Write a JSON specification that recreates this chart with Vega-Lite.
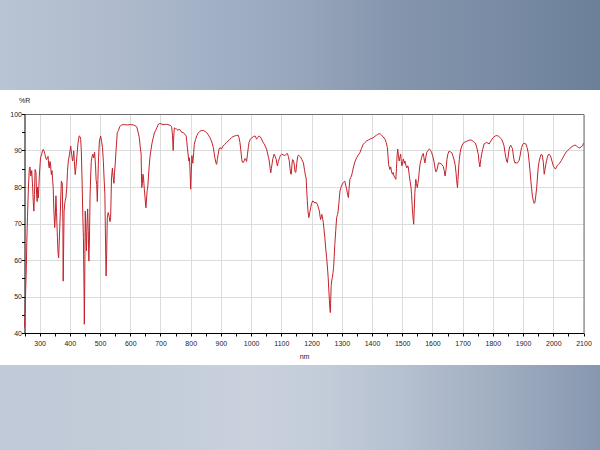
{
"$schema": "https://vega.github.io/schema/vega-lite/v6.json",
"padding": 0,
"background": "white",
"spacing": 6,
"config": {"font": "Liberation Sans", "view": {"stroke": null}},
"datasets": {"spectrum": [
{"nm":250,"R":41.5},{"nm":252,"R":45},{"nm":254,"R":52},{"nm":256,"R":58},{"nm":258,"R":66},{"nm":260,"R":72},{"nm":263,"R":80},{"nm":266,"R":85},{"nm":268,"R":85.5},{"nm":271,"R":83},{"nm":274,"R":84.5},{"nm":277,"R":79.8},{"nm":279,"R":76},{"nm":281,"R":73.4},{"nm":283,"R":78},{"nm":285,"R":84.8},{"nm":288,"R":84},{"nm":290,"R":78},{"nm":292,"R":76},{"nm":293,"R":80},{"nm":296,"R":77},{"nm":299,"R":83},{"nm":303,"R":88},{"nm":307,"R":89},{"nm":310,"R":90},{"nm":312,"R":90.3},{"nm":315,"R":89.8},{"nm":317,"R":89.2},{"nm":320,"R":88},{"nm":323,"R":87.5},{"nm":326,"R":88.2},{"nm":328,"R":88.4},{"nm":330,"R":86},{"nm":332,"R":85.2},{"nm":334,"R":87},{"nm":336,"R":86.6},{"nm":338,"R":84},{"nm":339,"R":83.4},{"nm":341,"R":84.5},{"nm":343,"R":82},{"nm":345,"R":79.8},{"nm":347,"R":74},{"nm":350,"R":68.9},{"nm":352,"R":72},{"nm":354,"R":77.6},{"nm":356,"R":73},{"nm":359,"R":66.1},{"nm":361,"R":62},{"nm":363,"R":60.6},{"nm":365,"R":65},{"nm":368,"R":71.6},{"nm":370,"R":77},{"nm":372,"R":81.6},{"nm":375,"R":81},{"nm":377,"R":70},{"nm":378,"R":54.2},{"nm":379,"R":60},{"nm":381,"R":73.4},{"nm":384,"R":76},{"nm":387,"R":77},{"nm":390,"R":80},{"nm":392,"R":84},{"nm":395,"R":87.1},{"nm":399,"R":89},{"nm":403,"R":91.2},{"nm":406,"R":89},{"nm":409,"R":87.1},{"nm":411,"R":88},{"nm":413,"R":89.9},{"nm":415,"R":87},{"nm":418,"R":83.4},{"nm":421,"R":86},{"nm":424,"R":89},{"nm":427,"R":92},{"nm":431,"R":94},{"nm":434,"R":93.8},{"nm":436,"R":93},{"nm":438,"R":90},{"nm":439,"R":87.1},{"nm":441,"R":80},{"nm":443,"R":72},{"nm":445,"R":66.1},{"nm":447,"R":52},{"nm":448,"R":42.4},{"nm":449,"R":50},{"nm":451,"R":73.4},{"nm":453,"R":68},{"nm":455,"R":62.5},{"nm":457,"R":70},{"nm":459,"R":74},{"nm":461,"R":68},{"nm":463,"R":59.7},{"nm":465,"R":66},{"nm":467,"R":77.6},{"nm":469,"R":83},{"nm":471,"R":87},{"nm":474,"R":88.5},{"nm":476,"R":89},{"nm":479,"R":88},{"nm":482,"R":89.5},{"nm":485,"R":86},{"nm":487,"R":82},{"nm":489,"R":80.7},{"nm":491,"R":76},{"nm":493,"R":82},{"nm":495,"R":88},{"nm":498,"R":92.6},{"nm":502,"R":94},{"nm":505,"R":92.5},{"nm":508,"R":90.9},{"nm":511,"R":87},{"nm":513,"R":83},{"nm":516,"R":78},{"nm":518,"R":66},{"nm":520,"R":55.6},{"nm":522,"R":62},{"nm":524,"R":71.6},{"nm":527,"R":73},{"nm":530,"R":72},{"nm":533,"R":70.5},{"nm":535,"R":71.6},{"nm":538,"R":82.5},{"nm":541,"R":85.2},{"nm":543,"R":83},{"nm":546,"R":81},{"nm":548,"R":84},{"nm":550,"R":86},{"nm":553,"R":90},{"nm":557,"R":94.9},{"nm":561,"R":95.5},{"nm":565,"R":96.5},{"nm":571,"R":97},{"nm":580,"R":97.1},{"nm":590,"R":97},{"nm":600,"R":97.1},{"nm":610,"R":97},{"nm":616,"R":96.8},{"nm":622,"R":96.4},{"nm":626,"R":95},{"nm":630,"R":93.5},{"nm":633,"R":91},{"nm":636,"R":89},{"nm":637,"R":84},{"nm":638,"R":79.8},{"nm":640,"R":81},{"nm":642,"R":83.5},{"nm":644,"R":82.5},{"nm":646,"R":80},{"nm":649,"R":77},{"nm":651,"R":75},{"nm":652,"R":74.3},{"nm":654,"R":77},{"nm":656,"R":79},{"nm":658,"R":80},{"nm":660,"R":82.5},{"nm":663,"R":86},{"nm":665,"R":88},{"nm":668,"R":89.9},{"nm":672,"R":92},{"nm":676,"R":93.5},{"nm":680,"R":94.8},{"nm":684,"R":95.5},{"nm":688,"R":96.2},{"nm":693,"R":97.2},{"nm":698,"R":97.4},{"nm":705,"R":97.2},{"nm":712,"R":97.1},{"nm":720,"R":97.2},{"nm":728,"R":97},{"nm":734,"R":96.8},{"nm":737,"R":96.5},{"nm":740,"R":94},{"nm":742,"R":90},{"nm":744,"R":94},{"nm":746,"R":96.2},{"nm":750,"R":96},{"nm":753,"R":95.9},{"nm":758,"R":95.5},{"nm":762,"R":95.9},{"nm":765,"R":95.6},{"nm":770,"R":95},{"nm":776,"R":94.9},{"nm":780,"R":94.5},{"nm":785,"R":94},{"nm":787,"R":92.5},{"nm":789,"R":90.8},{"nm":792,"R":88.5},{"nm":794,"R":87.1},{"nm":796,"R":88},{"nm":797,"R":86},{"nm":799,"R":82},{"nm":800,"R":79.4},{"nm":802,"R":84},{"nm":804,"R":88.6},{"nm":806,"R":87},{"nm":807,"R":86.5},{"nm":810,"R":89.5},{"nm":812,"R":91.7},{"nm":816,"R":93},{"nm":820,"R":94},{"nm":825,"R":94.8},{"nm":831,"R":95.3},{"nm":837,"R":95.5},{"nm":842,"R":95.5},{"nm":848,"R":95.2},{"nm":853,"R":94.9},{"nm":858,"R":94.3},{"nm":864,"R":93.5},{"nm":870,"R":92.3},{"nm":875,"R":90.8},{"nm":880,"R":88},{"nm":884,"R":86.5},{"nm":886,"R":86.2},{"nm":888,"R":87.5},{"nm":891,"R":89},{"nm":894,"R":90.4},{"nm":897,"R":90.8},{"nm":902,"R":90.4},{"nm":907,"R":91.2},{"nm":913,"R":91.7},{"nm":918,"R":92.2},{"nm":924,"R":92.6},{"nm":930,"R":93.1},{"nm":935,"R":93.5},{"nm":940,"R":93.8},{"nm":946,"R":94},{"nm":952,"R":94.1},{"nm":957,"R":94.2},{"nm":960,"R":93.5},{"nm":963,"R":92.2},{"nm":966,"R":90},{"nm":969,"R":87.6},{"nm":971,"R":86.8},{"nm":974,"R":86.7},{"nm":977,"R":87.2},{"nm":980,"R":87.8},{"nm":983,"R":87.4},{"nm":985,"R":87},{"nm":988,"R":89},{"nm":991,"R":91},{"nm":993,"R":92.2},{"nm":997,"R":93},{"nm":1002,"R":93.5},{"nm":1008,"R":93.8},{"nm":1013,"R":94},{"nm":1016,"R":93.5},{"nm":1018,"R":93.1},{"nm":1022,"R":93.6},{"nm":1027,"R":94},{"nm":1033,"R":93.4},{"nm":1040,"R":92.2},{"nm":1045,"R":91.5},{"nm":1051,"R":90.4},{"nm":1055,"R":89},{"nm":1058,"R":88},{"nm":1060,"R":87.1},{"nm":1063,"R":85},{"nm":1065,"R":83.9},{"nm":1067,"R":85},{"nm":1069,"R":86.2},{"nm":1072,"R":87.8},{"nm":1076,"R":89},{"nm":1080,"R":88.3},{"nm":1083,"R":87.6},{"nm":1085,"R":86.5},{"nm":1087,"R":85.8},{"nm":1090,"R":87},{"nm":1094,"R":88},{"nm":1097,"R":88.7},{"nm":1101,"R":89},{"nm":1106,"R":88.8},{"nm":1112,"R":88.6},{"nm":1116,"R":89},{"nm":1120,"R":89.2},{"nm":1123,"R":88.4},{"nm":1126,"R":87.3},{"nm":1129,"R":85},{"nm":1131,"R":83.6},{"nm":1133,"R":83.5},{"nm":1135,"R":86},{"nm":1137,"R":87.5},{"nm":1140,"R":87.3},{"nm":1143,"R":86},{"nm":1145,"R":84.2},{"nm":1148,"R":84},{"nm":1151,"R":86.5},{"nm":1154,"R":88.3},{"nm":1156,"R":88.7},{"nm":1160,"R":88.5},{"nm":1164,"R":88.2},{"nm":1168,"R":87.5},{"nm":1173,"R":86.6},{"nm":1177,"R":84.5},{"nm":1180,"R":83},{"nm":1182,"R":82.5},{"nm":1184,"R":79},{"nm":1186,"R":76.2},{"nm":1188,"R":73.5},{"nm":1191,"R":71.6},{"nm":1194,"R":73},{"nm":1197,"R":74.3},{"nm":1200,"R":75.5},{"nm":1204,"R":76.2},{"nm":1208,"R":75.9},{"nm":1211,"R":75.6},{"nm":1215,"R":75.8},{"nm":1219,"R":75.3},{"nm":1222,"R":74.5},{"nm":1226,"R":73.4},{"nm":1228,"R":72},{"nm":1230,"R":71.1},{"nm":1232,"R":71.8},{"nm":1234,"R":72.5},{"nm":1237,"R":71.2},{"nm":1239,"R":70.2},{"nm":1241,"R":68.5},{"nm":1244,"R":66.1},{"nm":1247,"R":63},{"nm":1250,"R":60.6},{"nm":1253,"R":57.5},{"nm":1255,"R":55.2},{"nm":1257,"R":52},{"nm":1259,"R":49},{"nm":1261,"R":46.5},{"nm":1262,"R":45.6},{"nm":1263,"R":48},{"nm":1265,"R":53},{"nm":1267,"R":54.5},{"nm":1269,"R":55.2},{"nm":1271,"R":56.5},{"nm":1273,"R":58},{"nm":1275,"R":61},{"nm":1277,"R":64.3},{"nm":1280,"R":68},{"nm":1283,"R":71.6},{"nm":1286,"R":72.5},{"nm":1288,"R":73.4},{"nm":1291,"R":76},{"nm":1294,"R":78.9},{"nm":1297,"R":79.8},{"nm":1299,"R":80.3},{"nm":1302,"R":80.8},{"nm":1305,"R":81.2},{"nm":1308,"R":81.5},{"nm":1310,"R":81.6},{"nm":1313,"R":80.5},{"nm":1316,"R":79.5},{"nm":1319,"R":78},{"nm":1322,"R":77.1},{"nm":1324,"R":79.5},{"nm":1327,"R":82.1},{"nm":1330,"R":82.7},{"nm":1332,"R":83},{"nm":1335,"R":84},{"nm":1338,"R":85.2},{"nm":1343,"R":86.8},{"nm":1349,"R":88},{"nm":1355,"R":88.8},{"nm":1360,"R":89.4},{"nm":1365,"R":90.5},{"nm":1371,"R":91.7},{"nm":1377,"R":92.2},{"nm":1382,"R":92.6},{"nm":1388,"R":92.9},{"nm":1393,"R":93.1},{"nm":1399,"R":93.3},{"nm":1404,"R":93.5},{"nm":1410,"R":93.9},{"nm":1415,"R":94.2},{"nm":1419,"R":94.4},{"nm":1423,"R":94.6},{"nm":1428,"R":94.5},{"nm":1432,"R":94.2},{"nm":1437,"R":93.7},{"nm":1443,"R":93.1},{"nm":1447,"R":92.2},{"nm":1451,"R":90.8},{"nm":1453,"R":88.5},{"nm":1455,"R":86.2},{"nm":1457,"R":85.5},{"nm":1459,"R":84.8},{"nm":1462,"R":85.5},{"nm":1465,"R":84},{"nm":1468,"R":83.5},{"nm":1470,"R":84},{"nm":1473,"R":83},{"nm":1476,"R":82.5},{"nm":1479,"R":82.1},{"nm":1481,"R":85},{"nm":1483,"R":88.5},{"nm":1485,"R":90.4},{"nm":1487,"R":89},{"nm":1490,"R":87.1},{"nm":1492,"R":88},{"nm":1495,"R":89},{"nm":1497,"R":87},{"nm":1499,"R":85.8},{"nm":1502,"R":87},{"nm":1504,"R":87.7},{"nm":1507,"R":86.5},{"nm":1509,"R":87.1},{"nm":1512,"R":86},{"nm":1515,"R":85.2},{"nm":1518,"R":85.8},{"nm":1520,"R":85.5},{"nm":1523,"R":83.5},{"nm":1526,"R":81.6},{"nm":1529,"R":80},{"nm":1531,"R":77.9},{"nm":1533,"R":75},{"nm":1534,"R":73.4},{"nm":1536,"R":71.5},{"nm":1538,"R":69.8},{"nm":1540,"R":74},{"nm":1542,"R":78.5},{"nm":1544,"R":81},{"nm":1545,"R":82.1},{"nm":1547,"R":81},{"nm":1550,"R":79.8},{"nm":1552,"R":81},{"nm":1554,"R":82.1},{"nm":1556,"R":84},{"nm":1559,"R":86.2},{"nm":1562,"R":87.3},{"nm":1564,"R":88},{"nm":1567,"R":88.8},{"nm":1570,"R":89.2},{"nm":1572,"R":88},{"nm":1575,"R":86.6},{"nm":1578,"R":88},{"nm":1581,"R":89.4},{"nm":1585,"R":90},{"nm":1590,"R":90.4},{"nm":1594,"R":90},{"nm":1597,"R":89.5},{"nm":1601,"R":88.5},{"nm":1605,"R":87.1},{"nm":1608,"R":85.5},{"nm":1611,"R":84.2},{"nm":1614,"R":84.3},{"nm":1617,"R":85.5},{"nm":1620,"R":86.6},{"nm":1625,"R":86.5},{"nm":1631,"R":86.2},{"nm":1636,"R":85.6},{"nm":1639,"R":84.5},{"nm":1642,"R":83},{"nm":1645,"R":84.8},{"nm":1648,"R":87.5},{"nm":1651,"R":89},{"nm":1655,"R":89.8},{"nm":1660,"R":89.6},{"nm":1664,"R":89.4},{"nm":1669,"R":88.2},{"nm":1672,"R":87.3},{"nm":1675,"R":86.2},{"nm":1678,"R":84},{"nm":1680,"R":82},{"nm":1683,"R":79.8},{"nm":1685,"R":82.5},{"nm":1687,"R":85.5},{"nm":1689,"R":87.5},{"nm":1692,"R":89.5},{"nm":1694,"R":90.4},{"nm":1698,"R":91.4},{"nm":1702,"R":92},{"nm":1707,"R":92.3},{"nm":1713,"R":92.5},{"nm":1718,"R":92.7},{"nm":1724,"R":92.9},{"nm":1730,"R":92.8},{"nm":1735,"R":92.5},{"nm":1740,"R":92.2},{"nm":1743,"R":91.8},{"nm":1747,"R":90.8},{"nm":1750,"R":89.5},{"nm":1752,"R":89},{"nm":1754,"R":87},{"nm":1757,"R":85.5},{"nm":1760,"R":87.5},{"nm":1763,"R":89},{"nm":1767,"R":90.5},{"nm":1771,"R":91.8},{"nm":1775,"R":92},{"nm":1780,"R":92.2},{"nm":1784,"R":92},{"nm":1788,"R":91.8},{"nm":1792,"R":92.4},{"nm":1797,"R":93.1},{"nm":1802,"R":93.6},{"nm":1808,"R":94},{"nm":1813,"R":94.1},{"nm":1819,"R":93.9},{"nm":1824,"R":93.5},{"nm":1829,"R":93.1},{"nm":1833,"R":92.3},{"nm":1837,"R":91.3},{"nm":1840,"R":89.5},{"nm":1843,"R":88},{"nm":1846,"R":87},{"nm":1848,"R":86.7},{"nm":1851,"R":88.5},{"nm":1853,"R":89.9},{"nm":1856,"R":91},{"nm":1859,"R":91.5},{"nm":1862,"R":91},{"nm":1865,"R":90.5},{"nm":1868,"R":88.5},{"nm":1871,"R":87.1},{"nm":1874,"R":86.5},{"nm":1876,"R":86.8},{"nm":1879,"R":86.5},{"nm":1881,"R":86.6},{"nm":1884,"R":86.9},{"nm":1887,"R":87.3},{"nm":1890,"R":88.5},{"nm":1893,"R":90},{"nm":1895,"R":90.8},{"nm":1899,"R":91.7},{"nm":1903,"R":92},{"nm":1906,"R":91.9},{"nm":1909,"R":91.8},{"nm":1913,"R":90.9},{"nm":1917,"R":89.4},{"nm":1920,"R":87},{"nm":1923,"R":84.4},{"nm":1926,"R":81.5},{"nm":1928,"R":79.8},{"nm":1931,"R":77.5},{"nm":1934,"R":76.2},{"nm":1937,"R":75.5},{"nm":1939,"R":75.7},{"nm":1942,"R":77.5},{"nm":1945,"R":79.8},{"nm":1948,"R":83},{"nm":1950,"R":85.2},{"nm":1953,"R":87},{"nm":1956,"R":88},{"nm":1959,"R":88.8},{"nm":1961,"R":89},{"nm":1964,"R":88.5},{"nm":1967,"R":86.8},{"nm":1970,"R":83.5},{"nm":1972,"R":84.5},{"nm":1975,"R":86},{"nm":1978,"R":87.3},{"nm":1980,"R":88},{"nm":1983,"R":88.8},{"nm":1986,"R":89},{"nm":1989,"R":88.7},{"nm":1992,"R":88.2},{"nm":1996,"R":87},{"nm":2000,"R":85.8},{"nm":2004,"R":85.3},{"nm":2007,"R":84.9},{"nm":2011,"R":85.5},{"nm":2014,"R":86},{"nm":2018,"R":86.3},{"nm":2022,"R":86.6},{"nm":2027,"R":87.3},{"nm":2031,"R":87.9},{"nm":2035,"R":88.5},{"nm":2038,"R":89},{"nm":2043,"R":89.6},{"nm":2049,"R":90.1},{"nm":2055,"R":90.6},{"nm":2061,"R":91},{"nm":2066,"R":91.3},{"nm":2072,"R":91.5},{"nm":2076,"R":91.3},{"nm":2080,"R":91},{"nm":2084,"R":90.8},{"nm":2088,"R":90.7},{"nm":2092,"R":91},{"nm":2097,"R":91.3},{"nm":2100,"R":92}
]},
"vconcat": [
 {
  "width": 600, "height": 90,
  "data": {"values": []},
  "mark": "point",
  "view": {"stroke": null, "fill": {"gradient": "linear", "x1": 0, "y1": 0, "x2": 1, "y2": 0, "stops": [
    {"offset": 0, "color": "#b8c3d3"}, {"offset": 0.17, "color": "#b0bccd"}, {"offset": 0.33, "color": "#a4b2c7"},
    {"offset": 0.5, "color": "#98a6bb"}, {"offset": 0.67, "color": "#8394ac"}, {"offset": 0.83, "color": "#7a8ca5"},
    {"offset": 1, "color": "#6b7f98"}]}}
 },
 {
  "width": 600, "height": 219,
  "data": {"name": "spectrum"},
  "view": {"stroke": null, "fill": null},
  "layer": [
   {
    "mark": {"type": "line", "color": "#c4222b", "strokeWidth": 1, "clip": true},
    "encoding": {
     "x": {"field": "nm", "type": "quantitative",
      "scale": {"domain": [250, 2100], "range": [24.5, 583.5], "nice": false, "zero": false},
      "axis": {
       "title": "nm", "titleFontSize": 7, "titleFontWeight": "normal", "titleColor": "#222",
       "titleX": 304, "titleY": 23, "titleAlign": "center", "titleBaseline": "middle",
       "values": [250,300,350,400,450,500,550,600,650,700,750,800,850,900,950,1000,1050,1100,1150,1200,1250,1300,1350,1400,1450,1500,1550,1600,1650,1700,1750,1800,1850,1900,1950,2000,2050,2100],
       "labelExpr": "datum.value % 100 === 0 ? datum.label : ''",
       "format": "d", "labelFontSize": 7, "labelColor": "#222", "labelPadding": 3, "labelFlush": false, "labelOverlap": false,
       "tickSize": 3, "tickColor": "#000", "domainColor": "#000",
       "gridColor": "#dcdcdc",
       "gridOpacity": {"condition": {"test": "datum.value % 100 === 0", "value": 1}, "value": 0},
       "minExtent": 26, "maxExtent": 26
      }},
     "y": {"field": "R", "type": "quantitative",
      "scale": {"domain": [40, 100], "nice": false, "zero": false},
      "axis": {
       "offset": -24.5,
       "title": "%R", "titleFontSize": 7, "titleFontWeight": "normal", "titleColor": "#222",
       "titleAngle": 0, "titleX": -6, "titleY": -13.5, "titleAlign": "left", "titleBaseline": "middle",
       "values": [40,45,50,55,60,65,70,75,80,85,90,95,100],
       "labelExpr": "datum.value % 10 === 0 ? datum.label : ''",
       "labelFontSize": 7, "labelColor": "#222", "labelPadding": 0,
       "tickSize": 3, "tickColor": "#000", "domainColor": "#000",
       "gridColor": "#dcdcdc",
       "gridOpacity": {"condition": {"test": "datum.value % 10 === 0", "value": 1}, "value": 0}
      }}
    }
   },
   {
    "mark": {"type": "line", "opacity": 0},
    "encoding": {
     "x": {"field": "nm", "type": "quantitative",
      "axis": {"orient": "top", "domain": true, "domainColor": "#6f6f6f", "labels": false, "ticks": false, "grid": false, "title": null}},
     "y": {"field": "R", "type": "quantitative",
      "axis": {"orient": "right", "offset": -16.5, "domain": true, "domainColor": "#6f6f6f", "labels": false, "ticks": false, "grid": false, "title": null}}
    }
   }
  ],
  "resolve": {"axis": {"x": "independent", "y": "independent"}}
 },
 {
  "width": 600, "height": 86,
  "data": {"values": []},
  "mark": "point",
  "view": {"stroke": null, "fill": {"gradient": "linear", "x1": 0, "y1": 0, "x2": 1, "y2": 0, "stops": [
    {"offset": 0, "color": "#c0cad8"}, {"offset": 0.25, "color": "#c3ccd9"}, {"offset": 0.42, "color": "#c9d1dd"},
    {"offset": 0.55, "color": "#c2cbd8"}, {"offset": 0.67, "color": "#b5c0d0"}, {"offset": 0.83, "color": "#a0aec1"},
    {"offset": 1, "color": "#8797af"}]}}
 }
]
}
